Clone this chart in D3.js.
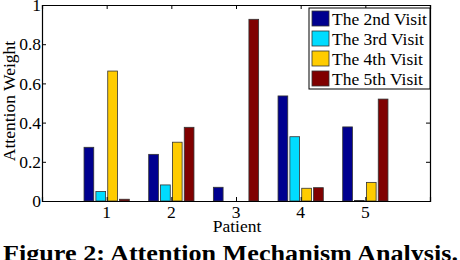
<!DOCTYPE html>
<meta charset="utf-8">
<style>
  body { margin: 0; background: #fff; }
</style>

<script src="https://d3js.org/d3.v7.min.js"></script>

<body></body>

<script>

// GLOBALS

var patients = [1, 2, 3, 4, 5];
var visits = ['The 2nd Visit', 'The 3rd Visit', 'The 4th Visit', 'The 5th Visit'];
var visit2 = [0.274, 0.238, 0.070, 0.536, 0.378];
var visit3 = [0.048, 0.082, 0.000, 0.328, 0.003];
var visit4 = [0.663, 0.300, 0.000, 0.065, 0.095];
var visit5 = [0.009, 0.376, 0.927, 0.068, 0.520];
var yTicks = [0, 0.2, 0.4, 0.6, 0.8, 1];
var colors = ['#00008f', '#00dcff', '#ffcc00', '#800000'];

var series = [visit2, visit3, visit4, visit5];

var width = 460;
var height = 260;

var margin = {
  top: 5,
  left: 42,
  right: 30,
  bottom: 59
};

var serif = "'Liberation Serif', 'Times New Roman', serif";
var axisFont = "17.5px";


// SVG SETUP

var svg = d3.select("body")
  .append("svg")
  .attr("width", width)
  .attr("height", height)
  .style("font-family", serif);


// SCALES

var xScale = d3.scaleLinear()
  .domain([0, 6])
  .range([margin.left, width - margin.right]);

var yScale = d3.scaleLinear()
  .domain([0, 1])
  .range([height - margin.bottom, margin.top]);

var groupWidth = xScale(0.70) - xScale(0);

var innerScale = d3.scaleBand()
  .domain(d3.range(visits.length))
  .range([-groupWidth / 2, groupWidth / 2])
  .paddingInner(0.18);


// BARS

series.forEach(function(values, i) {
  svg.append("g")
    .selectAll("rect")
    .data(values)
    .enter()
      .append("rect")
      .attr("x", function(d, j) { return xScale(patients[j]) + innerScale(i); })
      .attr("y", function(d) { return yScale(d); })
      .attr("width", innerScale.bandwidth())
      .attr("height", function(d) { return yScale(0) - yScale(d); })
      .attr("fill", colors[i])
      .attr("stroke", "#333")
      .attr("stroke-width", 0.8);
});


// AXES (box with inward ticks)

var leftAxis = svg.append("g")
  .attr("transform", `translate(${margin.left}, 0)`)
  .call(d3.axisRight(yScale).tickValues(yTicks).tickSize(4).tickFormat(""));

var rightAxis = svg.append("g")
  .attr("transform", `translate(${width - margin.right}, 0)`)
  .call(d3.axisLeft(yScale).tickValues(yTicks).tickSize(4).tickFormat(""));

var bottomAxis = svg.append("g")
  .attr("transform", `translate(0, ${height - margin.bottom})`)
  .call(d3.axisTop(xScale).tickValues(patients).tickSize(4).tickFormat(""));

var topAxis = svg.append("g")
  .attr("transform", `translate(0, ${margin.top})`)
  .call(d3.axisBottom(xScale).tickValues(patients).tickSize(4).tickFormat(""));

[leftAxis, rightAxis, bottomAxis, topAxis].forEach(function(g) {
  g.select(".domain").attr("stroke", "#000").attr("stroke-width", 1.2);
  g.selectAll(".tick line").attr("stroke", "#000");
});

// tick labels
svg.append("g")
  .selectAll("text")
  .data(yTicks)
  .enter()
    .append("text")
    .attr("x", margin.left - 1)
    .attr("y", function(d) { return yScale(d); })
    .attr("dy", "0.35em")
    .attr("text-anchor", "end")
    .style("font-family", serif)
    .style("font-size", axisFont)
    .text(function(d) { return d3.format("")(d); });

svg.append("g")
  .selectAll("text")
  .data(patients)
  .enter()
    .append("text")
    .attr("x", function(d) { return xScale(d); })
    .attr("y", height - margin.bottom + 17)
    .attr("text-anchor", "middle")
    .style("font-family", serif)
    .style("font-size", axisFont)
    .text(function(d) { return d; });


// AXIS LABELS

svg.append("text")
  .attr("text-anchor", "middle")
  .attr("x", 237)
  .attr("y", 232)
  .style("font-family", serif)
  .style("font-size", axisFont)
  .text("Patient");

svg.append("text")
  .attr("text-anchor", "middle")
  .attr("transform", "translate(15,101)rotate(-90)")
  .style("font-family", serif)
  .style("font-size", axisFont)
  .text("Attention Weight");


// LEGEND

var legend = svg.append("g")
  .attr("transform", "translate(309,8)");

legend.append("rect")
  .attr("width", width - margin.right - 309)
  .attr("height", 81)
  .attr("fill", "#fff")
  .attr("stroke", "#000");

var items = legend.selectAll(".item")
  .data(visits)
  .enter()
    .append("g")
    .attr("class", "item")
    .attr("transform", function(d, i) { return `translate(0, ${10.5 + i * 20})`; });

items.append("rect")
  .attr("x", 3)
  .attr("y", -7.5)
  .attr("width", 17)
  .attr("height", 15)
  .attr("fill", function(d, i) { return colors[i]; })
  .attr("stroke", "#333")
  .attr("stroke-width", 0.8);

items.append("text")
  .attr("x", 23)
  .attr("y", 6.5)
  .style("font-family", serif)
  .style("font-size", axisFont)
  .text(function(d) { return d; });


// CAPTION

svg.append("text")
  .attr("x", 3)
  .attr("y", 261)
  .attr("textLength", 455)
  .attr("lengthAdjust", "spacingAndGlyphs")
  .style("font-family", serif)
  .style("font-size", "24px")
  .style("font-weight", "bold")
  .text("Figure 2: Attention Mechanism Analysis.");

</script>
